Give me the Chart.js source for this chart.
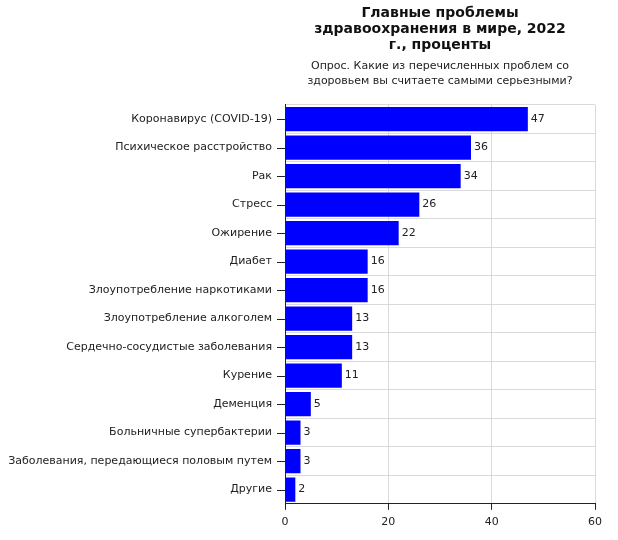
<!DOCTYPE html>
<html>
<head>
<meta charset="utf-8">
<script src="https://cdn.jsdelivr.net/npm/chart.js@4"></script>
<style>
  html, body { margin: 0; padding: 0; background: #fff; }
  #wrap { width: 618px; height: 540px; }
</style>
</head>
<body>
<div id="wrap"><canvas id="chart" width="618" height="540"></canvas></div>
<script>
const categories = [
  'Коронавирус (COVID-19)',
  'Психическое расстройство',
  'Рак',
  'Стресс',
  'Ожирение',
  'Диабет',
  'Злоупотребление наркотиками',
  'Злоупотребление алкоголем',
  'Сердечно-сосудистые заболевания',
  'Курение',
  'Деменция',
  'Больничные супербактерии',
  'Заболевания, передающиеся половым путем',
  'Другие'
];
const values = [47, 36, 34, 26, 22, 16, 16, 13, 13, 11, 5, 3, 3, 2];
const xTicks = [0, 20, 40, 60];
const titleLines = ['Главные проблемы', 'здравоохранения в мире, 2022', 'г., проценты'];
const subtitleLines = ['Опрос. Какие из перечисленных проблем со', 'здоровьем вы считаете самыми серьезными?'];

const FONT = "'DejaVu Sans', Verdana, sans-serif";

// value labels at bar ends + small tick marks at category centres
const extras = {
  id: 'extras',
  afterDatasetsDraw(chart) {
    const ctx = chart.ctx;
    const meta = chart.getDatasetMeta(0);
    const yScale = chart.scales.y;
    ctx.save();
    ctx.font = '11px ' + FONT;
    ctx.fillStyle = '#222';
    ctx.textBaseline = 'middle';
    ctx.textAlign = 'left';
    meta.data.forEach((bar, i) => {
      ctx.fillText(String(values[i]), bar.x + 3, bar.y);
    });
    ctx.strokeStyle = '#222';
    ctx.lineWidth = 1;
    categories.forEach((c, i) => {
      const y = Math.round(yScale.getPixelForValue(i)) + 0.5;
      ctx.beginPath();
      ctx.moveTo(yScale.right - 8, y);
      ctx.lineTo(yScale.right, y);
      ctx.stroke();
    });
    ctx.restore();
  }
};

new Chart(document.getElementById('chart'), {
  type: 'bar',
  data: {
    labels: categories,
    datasets: [{
      data: values,
      backgroundColor: '#0000ff',
      borderWidth: 0,
      barPercentage: 0.85,
      categoryPercentage: 1
    }]
  },
  options: {
    indexAxis: 'y',
    responsive: false,
    animation: false,
    layout: { padding: { left: 4, right: 23, top: 5, bottom: 5 } },
    plugins: {
      legend: { display: false },
      tooltip: { enabled: false },
      title: {
        display: true,
        text: titleLines,
        fullSize: false,
        color: '#111',
        font: { family: FONT, size: 14, weight: 'bold', lineHeight: 1.15 },
        padding: { top: 0, bottom: 6 }
      },
      subtitle: {
        display: true,
        text: subtitleLines,
        fullSize: false,
        color: '#222',
        font: { family: FONT, size: 11, lineHeight: 1.3 },
        padding: { top: 0, bottom: 17 }
      }
    },
    scales: {
      x: {
        min: 0,
        max: 60,
        afterBuildTicks(scale) {
          scale.ticks = xTicks.map(v => ({ value: v }));
        },
        grid: { color: '#d9d9d9', tickColor: '#222', tickLength: 6 },
        border: { color: '#222', width: 1 },
        ticks: { color: '#222', font: { family: FONT, size: 11 }, padding: 6 }
      },
      y: {
        afterFit(scale) { scale.width = 281; },
        grid: { color: '#d9d9d9', offset: true, drawTicks: false },
        border: { color: '#222', width: 1 },
        ticks: { color: '#222', font: { family: FONT, size: 11 }, padding: 13 }
      }
    }
  },
  plugins: [extras]
});
</script>
</body>
</html>
